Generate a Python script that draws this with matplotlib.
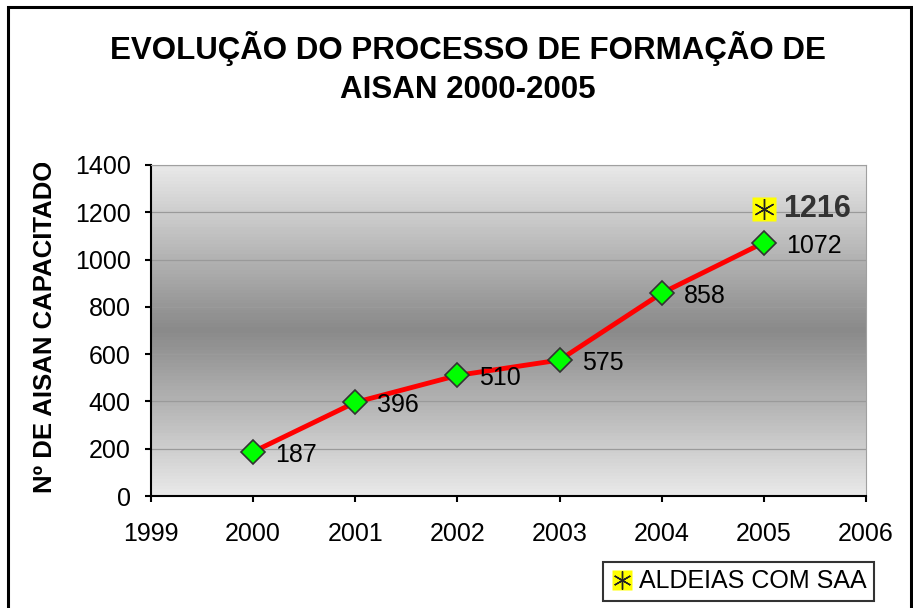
import matplotlib
matplotlib.use("Agg")
import matplotlib.pyplot as plt
import numpy as np
from matplotlib.lines import Line2D
from matplotlib.legend_handler import HandlerTuple
from matplotlib.patches import Rectangle
from matplotlib.transforms import Bbox

years = [2000, 2001, 2002, 2003, 2004, 2005]
aisan = [187, 396, 510, 575, 858, 1072]
saa_year = [2005]
saa_value = [1216]
title = "EVOLUÇÃO DO PROCESSO DE FORMAÇÃO DE\nAISAN 2000-2005"
ylabel = "Nº DE AISAN CAPACITADOS"
legend_label = "ALDEIAS COM SAA"

plt.rcParams['font.family'] = ['Liberation Sans', 'DejaVu Sans']

fig = plt.figure(figsize=(9.13, 6.08), dpi=100)
W, H = 913, 608
ax = fig.add_axes([151 / W, (H - 496) / H, 715 / W, 331 / H])

# figure frame
fig.patches.append(Rectangle((8 / W, -0.1), (911 - 8) / W, (H - 7) / H + 0.1,
                             transform=fig.transFigure, fill=False,
                             edgecolor='black', linewidth=2.2))

# gradient background
grad = np.concatenate([np.linspace(0.91, 0.54, 50), np.linspace(0.54, 0.91, 50)])
img = np.tile(grad[:, None], (1, 2))
ax.imshow(img, cmap='gray', vmin=0, vmax=1, aspect='auto',
          extent=[1999, 2006, 0, 1400], origin='upper', zorder=0)

ax.set_xlim(1999, 2006)
ax.set_ylim(0, 1400)
ax.set_yticks(range(0, 1401, 200))
ax.set_xticks(range(1999, 2007))
ax.grid(axis='y', color='#9a9a9a', linewidth=0.9, zorder=1)
ax.set_axisbelow(True)

ax.plot(years, aisan, color='#ff0000', linewidth=3.5, zorder=3,
        marker='D', markersize=12, markerfacecolor='#00ff00',
        markeredgecolor='#333333', markeredgewidth=1.2)

for x, y in zip(years, aisan):
    ax.annotate(str(y), (x, y), xytext=(22, -3), textcoords='offset pixels',
                ha='left', va='center', fontsize=18, color='black', zorder=5)

ax.plot(saa_year, saa_value, linestyle='none', marker='s', markersize=17,
        markerfacecolor='#ffff00', markeredgecolor='none', zorder=4)
ax.plot(saa_year, saa_value, linestyle='none', marker=(6, 2, 0), markersize=15,
        markeredgecolor='#222222', markeredgewidth=1.0, zorder=5)
for x, y in zip(saa_year, saa_value):
    ax.annotate(str(y), (x, y), xytext=(19, 0), textcoords='offset pixels',
                ha='left', va='center', fontsize=22, fontweight='bold',
                color='#333333', zorder=5)

for s in ['left', 'bottom']:
    ax.spines[s].set_color('black')
    ax.spines[s].set_linewidth(1.5)
ax.spines['top'].set_color('#a0a0a0')
ax.spines['right'].set_color('#a0a0a0')
ax.tick_params(axis='both', direction='out', length=4.5, width=1.5,
               labelsize=18, colors='black')
ax.tick_params(axis='y', pad=10)
ax.tick_params(axis='x', pad=14)

fig.text(468 / W, (H - 68) / H, title, ha='center', va='center',
         fontsize=22.5, fontweight='bold', linespacing=1.4)

yl = fig.text(45 / W, (H - 318) / H, ylabel, rotation=90, ha='center',
              va='center', fontsize=18.5, fontweight='bold')
yl.set_clip_box(Bbox.from_extents(0, 0, W, H - 163))
yl.set_clip_on(True)

h_sq = Line2D([], [], linestyle='none', marker='s', markersize=15,
              markerfacecolor='#ffff00', markeredgecolor='none')
h_st = Line2D([], [], linestyle='none', marker=(6, 2, 0), markersize=13,
              markeredgecolor='#222222', markeredgewidth=1.0)
leg = fig.legend([(h_sq, h_st)], [legend_label],
                 handler_map={tuple: HandlerTuple(ndivide=1)},
                 loc='lower left', bbox_to_anchor=(603 / W, (H - 601) / H),
                 fontsize=18, frameon=True, fancybox=False,
                 handlelength=0.9, handletextpad=0.25, borderpad=0.3,
                 borderaxespad=0)
leg.get_frame().set_edgecolor('black')
leg.get_frame().set_linewidth(1.5)

fig.savefig('out.png', dpi=100)
